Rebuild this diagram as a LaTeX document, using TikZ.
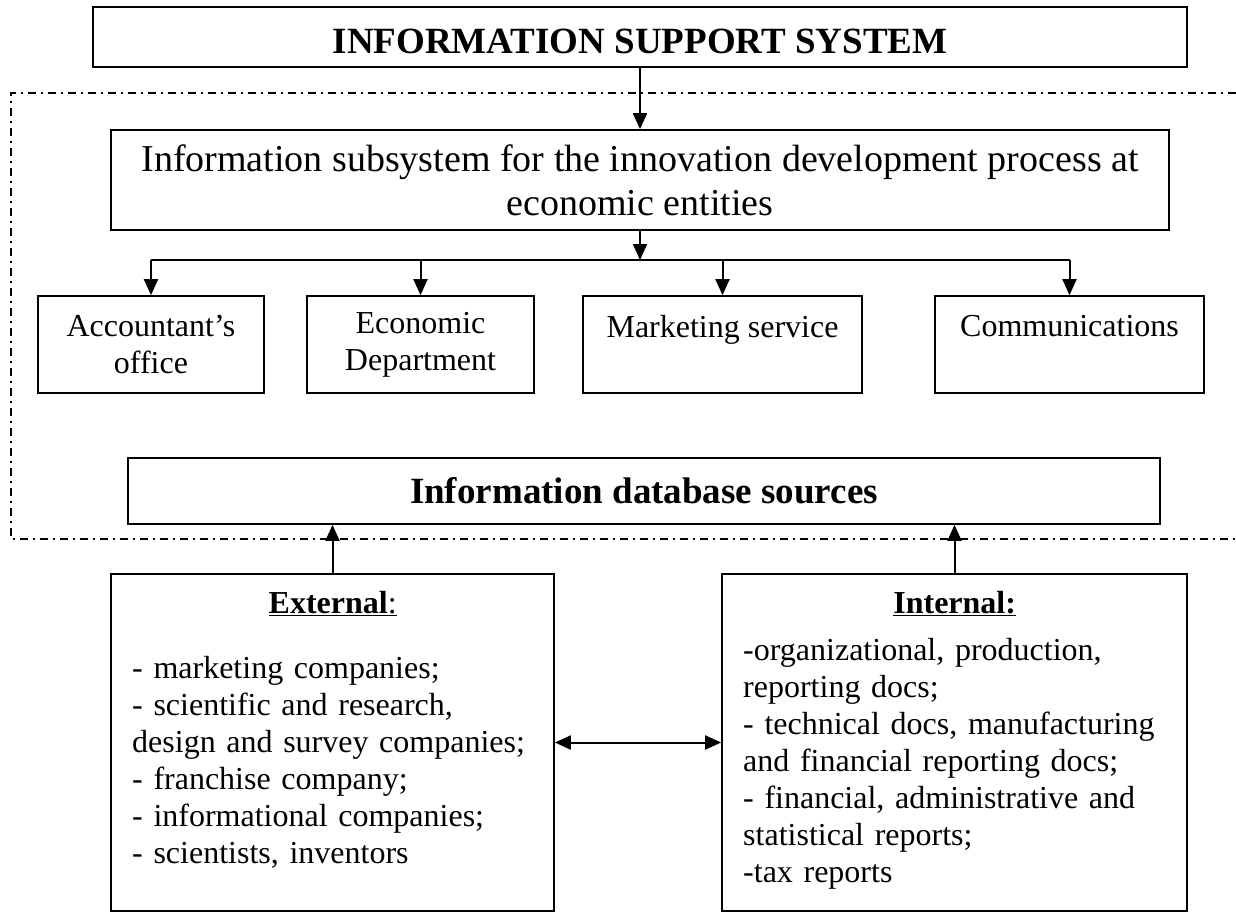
\documentclass[tikz,border=0pt]{standalone}
\usepackage{fontspec}
\setmainfont{Liberation Serif}
\usepackage{tikz}
\usetikzlibrary{arrows.meta}
\tikzstyle{block}=[draw=black,line width=1.7pt,inner sep=0pt,align=center]
\tikzstyle{listtext}=[inner sep=0pt,align=left]
\tikzstyle{bigfont}=[font=\fontsize{38}{44}\selectfont]
\tikzstyle{boldfont}=[font=\fontsize{37}{44}\selectfont\bfseries]
\tikzstyle{midfont}=[font=\fontsize{32}{37}\selectfont]
\tikzstyle{link}=[line width=2pt,-{Triangle[length=16pt,width=14pt]}]
\tikzstyle{twoway}=[line width=2pt,{Triangle[length=16pt,width=14pt]}-{Triangle[length=16pt,width=14pt]}]
\tikzstyle{dashframe}=[line width=1.4pt,dash pattern=on 8pt off 5pt on 2pt off 5pt]

\begin{document}
\begin{tikzpicture}[x=1pt,y=-1pt]
\useasboundingbox (0,0) rectangle (1236,913);

% top level
\node[block,boldfont,minimum width=1094pt,minimum height=60pt,text height=33pt] (iss) at (640,37) {INFORMATION SUPPORT SYSTEM};
\node[block,bigfont,minimum width=1058pt,minimum height=100pt] (subsys) at (640,180)
	{Information subsystem for the innovation development process at\\economic entities};

% departments
\node[block,midfont,minimum width=226pt,minimum height=97pt] (acc) at (151,344.5) {Accountant’s\\office};
\node[block,midfont,minimum width=227pt,minimum height=97pt] (eco) at (420.5,344.5) {Economic\\Department};
\node[block,midfont,minimum width=279pt,minimum height=97pt] (mkt) at (722.5,344.5) {Marketing service\\\mbox{}};
\node[block,midfont,minimum width=269pt,minimum height=97pt] (com) at (1069.5,344.5) {Communications\\\mbox{}};

% sources
\node[block,boldfont,minimum width=1032pt,minimum height=66pt] (db) at (644,491) {Information database sources};
\node[block,minimum width=443pt,minimum height=337pt] (ext) at (332.5,742.5) {};
\node[block,minimum width=465pt,minimum height=337pt] (int) at (954.5,742.5) {};

\node[listtext,midfont,text width=401pt,anchor=north west] (exttext) at (132,591)
	{\makebox[401pt]{\underline{\textbf{External}:}}\\[28pt]
	- marketing companies;\\
	- scientific and research,\\
	design and survey companies;\\
	- franchise company;\\
	- informational companies;\\
	- scientists, inventors};
\node[listtext,midfont,text width=423pt,anchor=north west] (inttext) at (743,591)
	{\makebox[423pt]{\underline{\textbf{Internal:}}}\\[10pt]
	-organizational, production,\\
	reporting docs;\\
	- technical docs, manufacturing\\
	and financial reporting docs;\\
	- financial, administrative and\\
	statistical reports;\\
	-tax reports};

% connections
\coordinate (fork) at (640,260);
\draw[link] (iss.south) -- (subsys.north);
\draw[link] (subsys.south) -- (fork);
\draw[line width=2pt] (acc.north |- fork) -- (com.north |- fork);
\draw[link] (acc.north |- fork) -- (acc.north);
\draw[link] (eco.north |- fork) -- (eco.north);
\draw[link] (mkt.north |- fork) -- (mkt.north);
\draw[link] (com.north |- fork) -- (com.north);
\draw[link] (ext.north) -- (ext.north |- db.south);
\draw[link] (int.north) -- (int.north |- db.south);
\draw[twoway] (ext.east) -- (int.west);

% subsystem frame
\draw[dashframe] (1236,93) -| (11,539) -- (1236,539);
\end{tikzpicture}
\end{document}
